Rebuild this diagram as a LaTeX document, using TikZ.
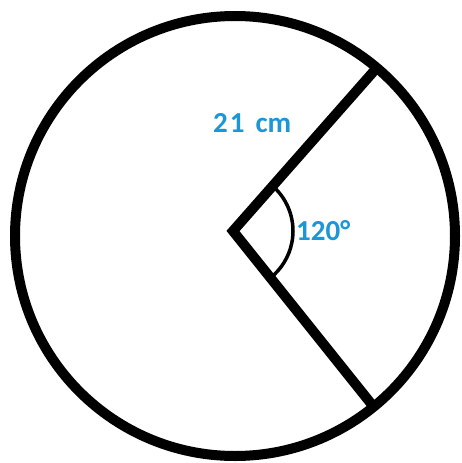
\documentclass[tikz,border=0pt]{standalone}
\usepackage{fontspec}
\setmainfont{Carlito}
\definecolor{lblblue}{RGB}{28,150,214}
\begin{document}
\begin{tikzpicture}[x=1pt,y=-1pt,
  thick line/.style={line width=10pt},
  arcline/.style={line width=3.5pt},
  lbl/.style={text=lblblue,font=\bfseries\fontsize{29}{31}\selectfont,inner sep=0pt}]
  \useasboundingbox (0,0) rectangle (461,463);
  \coordinate (C) at (235,236);
  \coordinate (O) at (233,231);
  \coordinate (A) at (374,71);
  \coordinate (B) at (373,406);
  \draw[thick line] (C) circle (220);
  \draw[thick line, line join=miter] (A) -- (O) -- (B);
  \draw[arcline] (O) ++(-48.7:60) arc[start angle=-48.7, end angle=51.8, radius=60];
  \node[lbl, anchor=base west] (r) at (213,132) {2\hspace{2pt}1\hspace{11pt}cm};
  \node[lbl, anchor=base west] (ang) at (296,240) {120°};
\end{tikzpicture}
\end{document}
